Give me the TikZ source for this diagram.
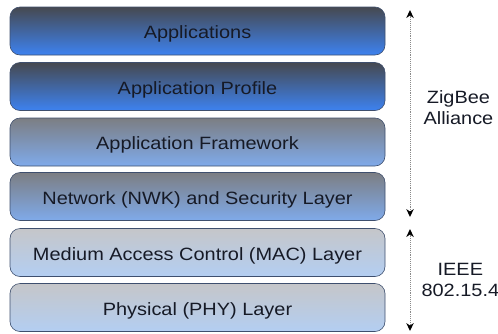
\documentclass[tikz,border=0pt]{standalone}
\usepackage{fontspec}
\setmainfont{Liberation Sans}[FakeStretch=1.12]
\usetikzlibrary{arrows.meta}
\definecolor{boxline}{HTML}{3E4F6E}
\definecolor{topA}{HTML}{464950}
\definecolor{botA}{HTML}{3D82F0}
\definecolor{topB}{HTML}{7C7E83}
\definecolor{botB}{HTML}{7FAAEA}
\definecolor{topC}{HTML}{C5C6C9}
\definecolor{botC}{HTML}{B3CEF2}
\definecolor{dotgray}{HTML}{8A8A8A}
\definecolor{txt}{HTML}{161A26}
\tikzset{
  layer/.style={draw=boxline, line width=0.6pt, rounded corners=10pt,
    minimum width=375pt, minimum height=48pt, inner sep=0pt,
    text height=18pt, text depth=3pt,
    font=\fontsize{17.8}{20}\selectfont, text=txt},
  darkL/.style={layer, top color=topA, bottom color=botA},
  midL/.style={layer, top color=topB, bottom color=botB},
  lightL/.style={layer, top color=topC, bottom color=botC},
  span/.style={dotgray, densely dotted, line width=0.9pt,
    {Stealth[length=8pt,width=7.5pt,inset=2.5pt,black,line width=0pt]}-{Stealth[length=8pt,width=7.5pt,inset=2.5pt,black,line width=0pt]}},
  sidelabel/.style={align=center, font=\fontsize{17.8}{21}\selectfont, text=txt}
}
\begin{document}
\begin{tikzpicture}[x=1pt,y=-1pt]
\useasboundingbox (0,0) rectangle (498,333);
\node[darkL]  (app)  at (197.5,31)  {Applications};
\node[darkL]  (prof) at (197.5,86.5)  {Application Profile};
\node[midL]   (fw)   at (197.5,142) {Application Framework};
\node[midL]   (nwk)  at (197.5,196.5) {Network (NWK) and Security Layer};
\node[lightL] (mac)  at (197.5,252.5) {Medium Access Control (MAC) Layer};
\node[lightL] (phy)  at (197.5,307.5) {Physical (PHY) Layer};
\coordinate (zt) at (410,10);
\coordinate (zb) at (410,217);
\coordinate (it) at (410,229);
\coordinate (ib) at (410,331);
\draw[span] (zt) -- (zb);
\draw[span] (it) -- (ib);
\node[sidelabel, anchor=west] (zig) at (420,108) {ZigBee\\Alliance};
\node[sidelabel, anchor=west] (ieee) at (418,280) {IEEE\\802.15.4};
\end{tikzpicture}
\end{document}
